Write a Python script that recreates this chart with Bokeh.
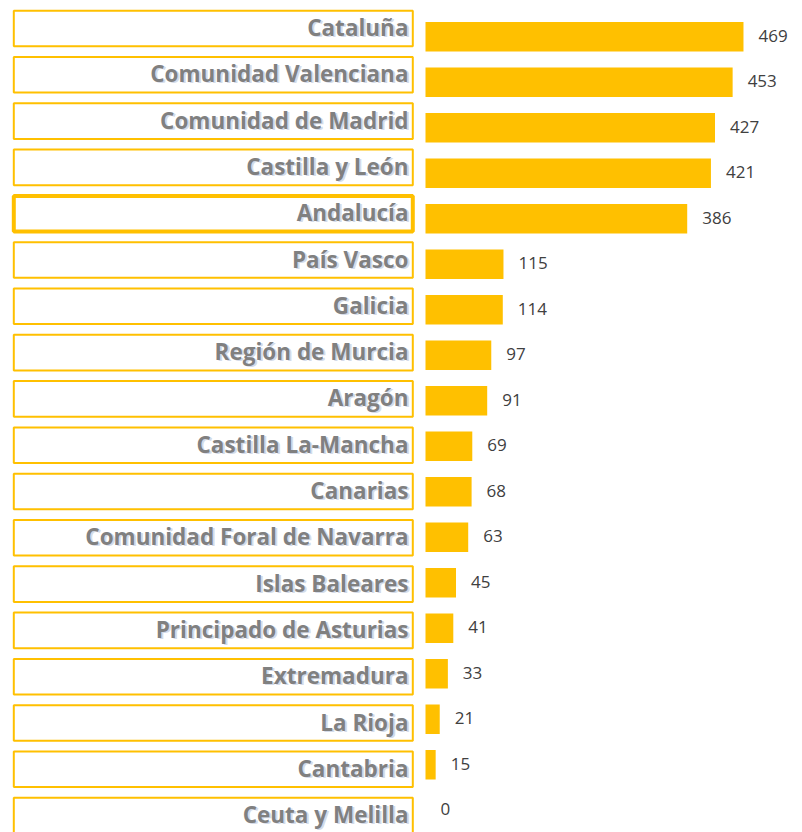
from bokeh.plotting import figure
from bokeh.layouts import row
from bokeh.models import ColumnDataSource, Range1d
from bokeh.core.properties import value
from bokeh.embed import file_html
from bokeh.resources import INLINE
import numpy as np

regions = ["Cataluña", "Comunidad Valenciana", "Comunidad de Madrid", "Castilla y León",
           "Andalucía", "País Vasco", "Galicia", "Región de Murcia", "Aragón",
           "Castilla La-Mancha", "Canarias", "Comunidad Foral de Navarra", "Islas Baleares",
           "Principado de Asturias", "Extremadura", "La Rioja", "Cantabria", "Ceuta y Melilla"]
counts = [469, 453, 427, 421, 386, 115, 114, 97, 91, 69, 68, 63, 45, 41, 33, 21, 15, 0]
highlight = "Andalucía"

H = 832
LW = 420
RW = 802 - LW
GOLD = "#FFC000"
FONT = "Open Sans"

idx = np.arange(len(regions))

# ---------------- left: label boxes ----------------
row_px_l = 46.3
top_l = 28.0
left = figure(width=LW, height=H, output_backend="svg", toolbar_location=None,
              x_range=Range1d(0, LW),
              y_range=Range1d((H - top_l) / row_px_l, -top_l / row_px_l),
              min_border=0, outline_line_color=None)
left.axis.visible = False
left.grid.visible = False

lw = [4 if r == highlight else 2 for r in regions]
src_l = ColumnDataSource(dict(y=idx, name=regions, lw=lw))
left.rect(x=(13.3 + 412.3) / 2, y="y", width=399, height=35.6 / row_px_l, source=src_l,
          fill_color="white", line_color=GOLD, line_width="lw")
left.text(x=409, y="y", text="name", source=src_l, text_align="right",
          text_baseline="middle", text_font=value(FONT), text_font_style="bold",
          text_font_size="22.5px", text_color="#A9B8D4", text_alpha=0.5,
          x_offset=1, y_offset=0)
left.text(x=408, y="y", text="name", source=src_l, text_align="right",
          text_baseline="middle", text_font=value(FONT), text_font_style="bold",
          text_font_size="22.5px", text_color="#808080", y_offset=-1)

# ---------------- right: bars ----------------
px_per_unit = 0.678
x0_px = 5
row_px_r = 45.5
top_r = 36.2
right = figure(width=RW, height=H, output_backend="svg", toolbar_location=None,
               x_range=Range1d(-x0_px / px_per_unit, (RW - x0_px) / px_per_unit),
               y_range=Range1d((H - top_r) / row_px_r, -top_r / row_px_r),
               min_border=0, outline_line_color=None)
right.axis.visible = False
right.grid.visible = False

src_r = ColumnDataSource(dict(y=idx, v=counts, lbl=[str(c) for c in counts]))
right.hbar(y="y", left=0, right="v", height=29.5 / row_px_r, source=src_r,
           fill_color=GOLD, line_color=None)
right.text(x="v", y="y", text="lbl", source=src_r, text_align="left",
           text_baseline="middle", text_font=value(FONT), text_font_size="17px",
           text_color="#404040", x_offset=15, y_offset=-1)

p = row(left, right, spacing=0)
open("out.html", "w").write(file_html(p, INLINE))
